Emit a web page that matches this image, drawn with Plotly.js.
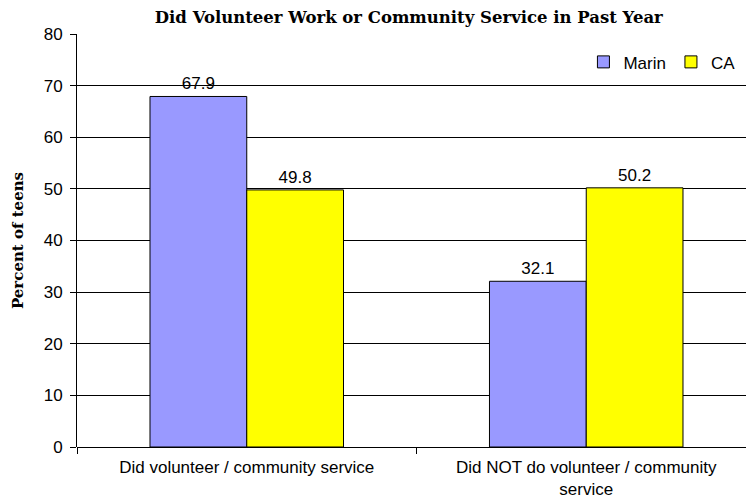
<!DOCTYPE html>
<html>
<head>
<meta charset="utf-8">
<script src="https://cdn.plot.ly/plotly-3.0.1.min.js"></script>
<style>html,body{margin:0;padding:0;background:#fff;}#chart{width:746px;height:502px;}</style>
</head>
<body>
<div id="chart"></div>
<script>
var categories = ["Did volunteer / community service", "Did NOT do volunteer / community<br>service"];
var marinValues = [67.9, 32.1];
var caValues = [49.8, 50.2];
var seriesNames = ["Marin", "CA"];

var common = {
  type: "bar",
  textposition: "outside",
  texttemplate: "%{y:.1f}",
  cliponaxis: false,
  textfont: {family: "Liberation Sans, Arial, sans-serif", size: 17, color: "#000"}
};
var traces = [
  Object.assign({}, common, {x: categories, y: marinValues, name: seriesNames[0],
    marker: {color: "#9999FF", line: {color: "#000", width: 1}}}),
  Object.assign({}, common, {x: categories, y: caValues, name: seriesNames[1],
    marker: {color: "#FFFF00", line: {color: "#000", width: 1}}})
];

var layout = {
  width: 746, height: 502,
  margin: {l: 77, r: 0, t: 34, b: 55},
  paper_bgcolor: "#fff", plot_bgcolor: "#fff",
  barmode: "group", bargap: 0.43, bargroupgap: 0,
  title: {text: "Did Volunteer Work or Community Service in Past Year",
    font: {family: "DejaVu Serif, serif", size: 16.5, color: "#000", weight: "bold"},
    x: 0.548, xanchor: "center", y: 0.966, yanchor: "middle"},
  font: {family: "Liberation Sans, Arial, sans-serif", color: "#000"},
  xaxis: {
    type: "category",
    range: [-0.5, 1.4706],
    showgrid: false, zeroline: false,
    showline: false,
    ticks: "outside", tickson: "boundaries", ticklen: 6, tickcolor: "#000",
    ticklabelstandoff: 8,
    tickfont: {size: 17, color: "#000"},
    fixedrange: true
  },
  yaxis: {
    range: [0, 80], dtick: 10,
    showgrid: true, gridcolor: "#000", gridwidth: 1,
    zeroline: true, zerolinecolor: "#000", zerolinewidth: 1,
    showline: true, linecolor: "#000", linewidth: 1,
    ticks: "outside", ticklen: 6, tickcolor: "#000",
    ticklabelstandoff: 4,
    tickfont: {size: 17, color: "#000"},
    title: {text: "Percent of teens", standoff: 16,
      font: {family: "DejaVu Serif, serif", size: 15, color: "#000", weight: "bold"}}
  },
  legend: {
    orientation: "h", x: 0.757, y: 0.975, xanchor: "left", yanchor: "top",
    bgcolor: "rgba(255,255,255,0)",
    font: {family: "Liberation Sans, Arial, sans-serif", size: 17, color: "#000"},
    itemwidth: 30, tracegroupgap: 0
  },
  showlegend: true
};

Plotly.newPlot("chart", traces, layout, {displayModeBar: false, staticPlot: true});
</script>
</body>
</html>
